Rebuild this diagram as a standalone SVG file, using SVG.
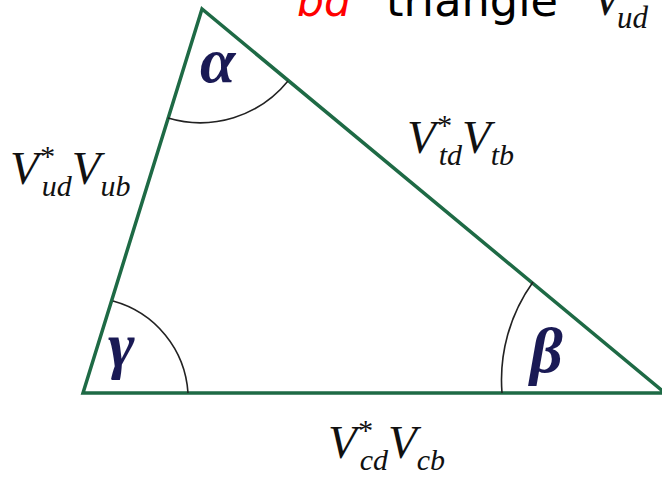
<svg xmlns="http://www.w3.org/2000/svg" width="662" height="477" viewBox="0 0 662 477">
<style>
.edge{stroke:#1e6a45;stroke-width:3.5;fill:none;stroke-linecap:round}
.arc{stroke:#222;stroke-width:1.6;fill:none}
.math{font-family:"Liberation Serif",serif;font-style:italic;fill:#111}
.greek{font-family:"Liberation Serif",serif;font-style:italic;font-weight:bold;fill:#1a1a55}
.title{font-family:"DejaVu Sans",sans-serif;font-size:44px}
</style>
<rect width="662" height="477" fill="#fff"/>
<g id="title">
<text class="title" x="297" y="16" fill="#ff0000" font-style="italic" textLength="54" lengthAdjust="spacingAndGlyphs">bd</text>
<text class="title" x="386" y="16" fill="#000" textLength="172" lengthAdjust="spacingAndGlyphs">triangle</text>
<text class="math" x="592" y="15" font-size="48">V</text>
<text class="math" x="617" y="28" font-size="31">ud</text>
</g>
<g id="connectors">
<path class="edge" d="M202,9 L83,393 L665,393 Z"/>
<path class="arc" d="M168,118 A113,113 0 0 0 288,81"/>
<path class="arc" d="M113,301 A102,102 0 0 1 188,393"/>
<path class="arc" d="M533,282 A168,168 0 0 0 502,393"/>
</g>
<g id="alpha"><text class="greek" x="200" y="82" font-size="64">α</text></g>
<g id="gamma"><text class="greek" x="108" y="366" font-size="64">γ</text></g>
<g id="beta"><text class="greek" x="530" y="372" font-size="64">β</text></g>
<g id="side-ub">
<text class="math" x="10" y="184" font-size="47">V<tspan font-size="30" dy="-18">*</tspan><tspan font-size="30" dx="-12" dy="30">ud</tspan><tspan dy="-12">V</tspan><tspan font-size="30" dy="12">ub</tspan></text>
</g>
<g id="side-tb">
<text class="math" x="407" y="153" font-size="47">V<tspan font-size="30" dy="-18">*</tspan><tspan font-size="30" dx="-12" dy="30">td</tspan><tspan dy="-12">V</tspan><tspan font-size="30" dy="12">tb</tspan></text>
</g>
<g id="side-cb">
<text class="math" x="328" y="458" font-size="47">V<tspan font-size="30" dy="-18">*</tspan><tspan font-size="30" dx="-12" dy="30">cd</tspan><tspan dy="-12">V</tspan><tspan font-size="30" dy="12">cb</tspan></text>
</g>
</svg>
